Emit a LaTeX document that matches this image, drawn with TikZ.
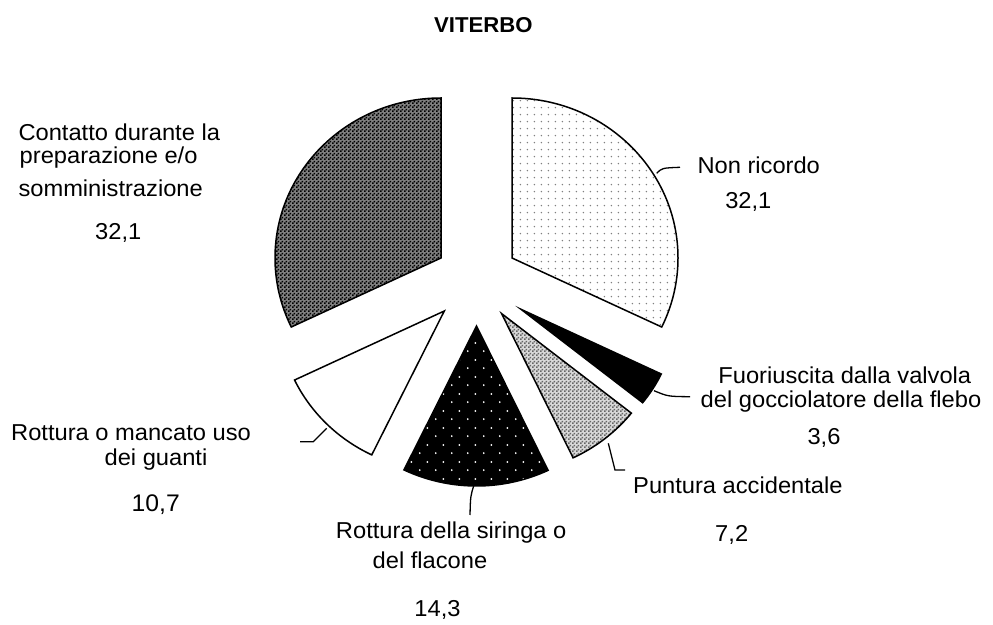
\documentclass[tikz,border=0pt]{standalone}
\usepackage{fontspec}
\setmainfont{Liberation Sans}[FakeStretch=1.03]
\usetikzlibrary{patterns.meta}
\tikzdeclarepattern{name=sparsedots,type=uncolored,
  bounding box={(0pt,0pt) and (7.4pt,7.4pt)},tile size={(7.4pt,7.4pt)},
  code={\fill (3.7pt,3.7pt) circle (0.85pt);}}
\tikzdeclarepattern{name=staggerdots,type=uncolored,
  bounding box={(0pt,0pt) and (16pt,16.6pt)},tile size={(16pt,16.6pt)},
  code={\fill (4pt,4pt) circle (1pt); \fill (12pt,12.3pt) circle (1pt);}}
\tikzdeclarepattern{name=checker,type=uncolored,
  bounding box={(0pt,0pt) and (4pt,4pt)},tile size={(4pt,4pt)},
  code={\fill (0pt,0pt) rectangle (2pt,2pt); \fill (2pt,2pt) rectangle (4pt,4pt);}}
\begin{document}
\begin{tikzpicture}[x=1pt,y=1pt,
  slice/.style={draw=black,line width=1.5pt,line join=miter},
  lbl/.style={inner sep=0pt,font=\fontsize{23}{27}\selectfont},
  leader/.style={draw=black,line width=1.3pt}]
\useasboundingbox (0,0) rectangle (993,624);
% slices
\path[slice,preaction={fill=black!50},pattern=checker,pattern color=black]
  (441,366) -- ++(90:166pt and 160pt) arc[start angle=90,end angle=205.56,x radius=166pt,y radius=160pt] -- cycle;
\path[slice,preaction={fill=white},pattern=sparsedots,pattern color=black!50]
  (512,366) -- ++(90:166pt and 160pt) arc[start angle=90,end angle=-25.56,x radius=166pt,y radius=160pt] -- cycle;
\path[slice,fill=black]
  (521,314.7) -- ++(-38.52:155.5pt and 150pt) arc[start angle=-38.52,end angle=-25.56,x radius=155.5pt,y radius=150pt] -- cycle;
\path[slice,preaction={fill=black!15},pattern=checker,pattern color=black!60]
  (501.5,310.5) -- ++(-64.44:166pt and 160pt) arc[start angle=-64.44,end angle=-38.52,x radius=166pt,y radius=160pt] -- cycle;
\path[slice,preaction={fill=black},pattern=staggerdots,pattern color=white]
  (476.5,298) -- ++(-115.92:166pt and 160pt) arc[start angle=-115.92,end angle=-64.44,x radius=166pt,y radius=160pt] -- cycle;
\path[slice,fill=white]
  (444.3,313) -- ++(205.56:166pt and 160pt) arc[start angle=205.56,end angle=244.08,x radius=166pt,y radius=160pt] -- cycle;
% title
\node[inner sep=0pt,anchor=base,font=\fontsize{21.5}{25}\selectfont\bfseries] (title) at (483.3,591.7) {VITERBO};
% labels
\node[lbl,anchor=base west] (c1) at (18.3,483.3) {Contatto durante la};
\node[lbl,anchor=base west] (c2) at (19.5,460) {preparazione e/o};
\node[lbl,anchor=base west] (c3) at (18.3,427.3) {somministrazione};
\node[lbl,anchor=base] (cv) at (118.3,384) {32,1};
\node[lbl,anchor=base west] (n1) at (697.3,450.7) {Non ricordo};
\node[lbl,anchor=base] (nv) at (748.3,415.7) {32,1};
\node[lbl,anchor=base] (f1) at (844.8,240.7) {Fuoriuscita dalla valvola};
\node[lbl,anchor=base] (f2) at (841,216) {del gocciolatore della flebo};
\node[lbl,anchor=base] (fv) at (824,179) {3,6};
\node[lbl,anchor=base west] (p1) at (633,130) {Puntura accidentale};
\node[lbl,anchor=base] (pv) at (731.7,82) {7,2};
\node[lbl,anchor=base] (g1) at (131,183.3) {Rottura o mancato uso};
\node[lbl,anchor=base] (g2) at (156,158.3) {dei guanti};
\node[lbl,anchor=base,font=\fontsize{24}{28}\selectfont] (gv) at (155.8,112.3) {10,7};
\node[lbl,anchor=base] (s1) at (451.2,85.7) {Rottura della siringa o};
\node[lbl,anchor=base] (s2) at (430,55.7) {del flacone};
\node[lbl,anchor=base] (sv) at (437.5,7.3) {14,3};
% leader end points
\coordinate (nA) at (656.7,450.7); \coordinate (nB) at (680,456.7);
\coordinate (fA) at (654,233.3); \coordinate (fB) at (690,227.3);
\coordinate (pA) at (608.3,180.7); \coordinate (pM) at (615,154); \coordinate (pB) at (625,154);
\coordinate (sA) at (474,139); \coordinate (sB) at (470,109);
\coordinate (gA) at (326.7,195.7); \coordinate (gM) at (313.3,182.3); \coordinate (gB) at (300,182.3);
\draw[leader] (nA) .. controls (662,456) .. (nB);
\draw[leader] (fA) .. controls (668,227.5) .. (fB);
\draw[leader] (pA) -- (pM) -- (pB);
\draw[leader] (sA) .. controls (470.5,128) .. (sB);
\draw[leader] (gA) -- (gM) -- (gB);
\end{tikzpicture}
\end{document}
